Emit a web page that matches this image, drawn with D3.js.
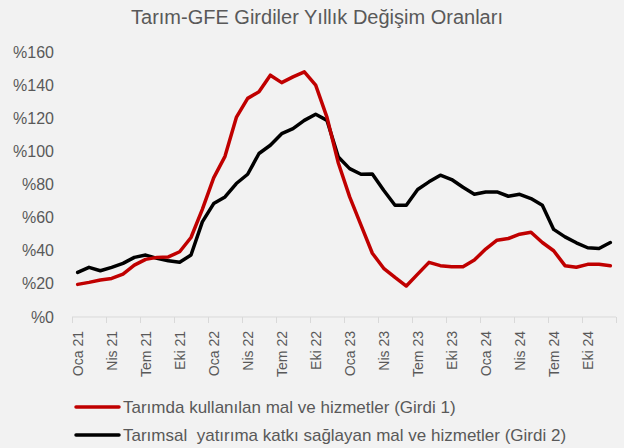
<!DOCTYPE html>
<html lang="tr">
<head>
    <meta charset="UTF-8">
    <title>Tarım-GFE Girdiler Yıllık Değişim Oranları</title>
    <script src="https://d3js.org/d3.v7.min.js"></script>
    <style>
        body {
            margin: 0;
            padding: 0;
            background: #f2f2f2;
            font-family: "Liberation Sans", Arial, sans-serif;
        }
        text {
            fill: #595959;
        }
    </style>
</head>
<body>
    <script>
        // Aylar: Ocak 2021 - Aralık 2024
        const monthNames = ['Oca', 'Şub', 'Mar', 'Nis', 'May', 'Haz', 'Tem', 'Ağu', 'Eyl', 'Eki', 'Kas', 'Ara'];
        const years = ['21', '22', '23', '24'];
        const months = years.flatMap(y => monthNames.map(m => m + ' ' + y));

        // Tarımda kullanılan mal ve hizmetler (Girdi 1), %
        const girdi1 = [
            19.7, 20.9, 22.3, 23.3, 25.9, 31.3, 34.8, 36.0, 36.3, 39.4, 48.0, 65.0,
            84.0, 97.0, 120.5, 132.0, 136.0, 146.0, 141.5, 145.0, 148.0, 140.0, 120.5, 93.0,
            72.5, 55.5, 38.5, 29.4, 23.9, 18.7, 25.9, 33.0, 31.0, 30.3, 30.3, 34.4,
            41.0, 46.4, 47.4, 50.0, 51.2, 45.0, 40.0, 31.0, 30.0, 31.8, 31.8, 30.9
        ];

        // Tarımsal yatırıma katkı sağlayan mal ve hizmetler (Girdi 2), %
        const girdi2 = [
            26.9, 30.0, 27.9, 30.0, 32.4, 36.0, 37.4, 35.4, 33.9, 33.0, 37.4, 57.4,
            68.5, 72.5, 80.6, 86.2, 98.7, 103.7, 110.7, 113.7, 118.7, 122.4, 118.7, 96.6,
            89.6, 86.2, 86.4, 76.5, 67.5, 67.5, 77.0, 81.6, 85.6, 83.0, 78.3, 74.1,
            75.5, 75.5, 72.9, 74.1, 71.5, 67.5, 52.9, 48.4, 44.8, 41.8, 41.4, 45.0
        ];

        const yTicks = [0, 20, 40, 60, 80, 100, 120, 140, 160];

        const series = [
            { name: 'Tarımda kullanılan mal ve hizmetler (Girdi 1)', values: girdi1, color: '#c00000' },
            { name: 'Tarımsal  yatırıma katkı sağlayan mal ve hizmetler (Girdi 2)', values: girdi2, color: '#000000' }
        ];

        const width = 624, height = 448;
        const margin = { left: 72, right: 8, top: 52, bottom: 131 };

        const svg = d3.select('body').append('svg')
            .attr('width', width)
            .attr('height', height)
            .style('display', 'block');

        svg.append('rect')
            .attr('width', width)
            .attr('height', height)
            .attr('fill', '#f2f2f2');

        const x = d3.scaleBand()
            .domain(months)
            .range([margin.left, width - margin.right])
            .padding(0);

        const y = d3.scaleLinear()
            .domain([0, 160])
            .range([height - margin.bottom, margin.top]);

        // başlık
        svg.append('text')
            .attr('x', 317)
            .attr('y', 24)
            .attr('text-anchor', 'middle')
            .style('font-size', '20px')
            .text('Tarım-GFE Girdiler Yıllık Değişim Oranları');

        // y ekseni etiketleri
        svg.append('g')
            .selectAll('text')
            .data(yTicks)
            .enter().append('text')
            .attr('x', 54)
            .attr('y', d => y(d))
            .attr('dy', '0.35em')
            .attr('text-anchor', 'end')
            .style('font-size', '16px')
            .text(d => '%' + d);

        // x ekseni
        const axisY = y(0);
        const xAxis = svg.append('g');
        xAxis.append('line')
            .attr('x1', x.range()[0])
            .attr('x2', x.range()[1])
            .attr('y1', axisY)
            .attr('y2', axisY)
            .attr('stroke', '#d9d9d9')
            .attr('stroke-width', 1);

        const tickIdx = d3.range(0, months.length + 1, 3);
        xAxis.selectAll('line.tick')
            .data(tickIdx)
            .enter().append('line')
            .attr('class', 'tick')
            .attr('x1', d => Math.round(x.range()[0] + d * x.step()) + 0.5)
            .attr('x2', d => Math.round(x.range()[0] + d * x.step()) + 0.5)
            .attr('y1', axisY)
            .attr('y2', axisY + 6)
            .attr('stroke', '#d9d9d9');

        xAxis.selectAll('text')
            .data(months.filter((m, i) => i % 3 === 0))
            .enter().append('text')
            .attr('transform', d => `translate(${x(d) + x.bandwidth() / 2},${axisY + 14}) rotate(-90)`)
            .attr('dy', '0.35em')
            .attr('text-anchor', 'end')
            .style('font-size', '14px')
            .text(d => d);

        // seriler
        const line = d3.line()
            .x((d, i) => x(months[i]) + x.bandwidth() / 2)
            .y(d => y(d));

        svg.append('g')
            .selectAll('path')
            .data(series.slice().reverse())
            .enter().append('path')
            .attr('d', d => line(d.values))
            .attr('fill', 'none')
            .attr('stroke', d => d.color)
            .attr('stroke-width', 3.5)
            .attr('stroke-linejoin', 'round')
            .attr('stroke-linecap', 'round');

        // lejant
        const legend = svg.append('g')
            .selectAll('g')
            .data(series)
            .enter().append('g')
            .attr('transform', (d, i) => `translate(76,${407 + i * 28})`);

        legend.append('line')
            .attr('x1', 0)
            .attr('x2', 43)
            .attr('stroke', d => d.color)
            .attr('stroke-width', 3.5)
            .attr('stroke-linecap', 'round');

        legend.append('text')
            .attr('x', 47)
            .attr('dy', '0.35em')
            .style('font-size', '17px')
            .style('white-space', 'pre')
            .attr('xml:space', 'preserve')
            .text(d => d.name);
    </script>
</body>
</html>
